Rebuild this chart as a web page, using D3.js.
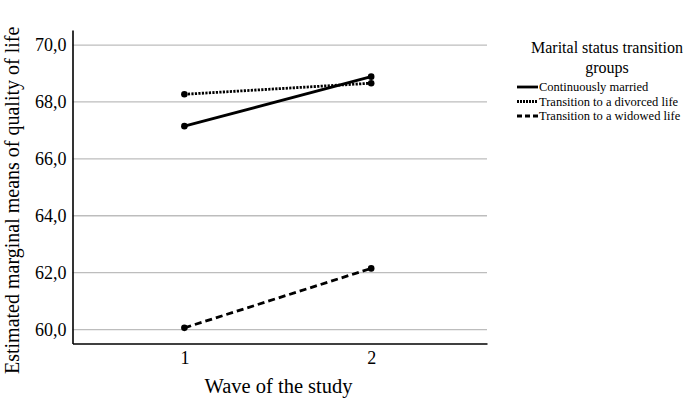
<!DOCTYPE html>
<html><head><meta charset="utf-8">
<script src="https://cdn.jsdelivr.net/npm/d3@7"></script>
<style>body{margin:0;background:#fff;} svg{display:block;font-family:"Liberation Serif","Times New Roman",serif;}</style>
</head><body>
<svg id="chart" width="685" height="399"></svg>
<script>
const waves = [1, 2];
const yTicks = [60, 62, 64, 66, 68, 70];
const seriesNames = ["Continuously married", "Transition to a divorced life", "Transition to a widowed life"];
const marriedValues = [67.15, 68.89];
const divorcedValues = [68.27, 68.66];
const widowedValues = [60.06, 62.15];
const dashStyles = [null, "2.2,1.3", "7,4"];
const legendDash = [null, "2,1", "5,3"];

(function () {
const series = [marriedValues, divorcedValues, widowedValues].map((v, i) => ({name: seriesNames[i], values: v, dash: dashStyles[i], ldash: legendDash[i]}));

const svg = d3.select("#chart");
const mLeft = 72.5, mRight = 487, mTop = 30, mBottom = 343.5;
const x = d3.scaleLinear().domain([0.401, 2.62]).range([mLeft, mRight]);
const y = d3.scaleLinear().domain([59.51, 70.53]).range([mBottom, mTop]);

// gridlines
svg.append("g").selectAll("line").data(yTicks).join("line")
  .attr("x1", mLeft).attr("x2", mRight)
  .attr("y1", d => y(d)).attr("y2", d => y(d))
  .attr("stroke", "#bdbdbd").attr("stroke-width", 1.3);

// y axis
const yAxis = d3.axisLeft(y).tickValues(yTicks).tickSize(0).tickPadding(6)
  .tickFormat(d => d3.format(".1f")(d).replace(".", ","));
const gy = svg.append("g").attr("transform", `translate(${mLeft},0)`).call(yAxis);
gy.select(".domain").attr("stroke", "#000").attr("stroke-width", 1.6);
gy.selectAll("text").attr("font-size", 18).attr("font-family", "Liberation Serif").attr("fill", "#000");

// x axis
const xAxis = d3.axisBottom(x).tickValues(waves).tickSize(0).tickPadding(8).tickFormat(d3.format("d"));
const gx = svg.append("g").attr("transform", `translate(0,${mBottom})`).call(xAxis);
gx.select(".domain").attr("stroke", "#000").attr("stroke-width", 1.6);
gx.selectAll("text").attr("font-size", 18).attr("font-family", "Liberation Serif").attr("fill", "#000");

// lines
const line = d3.line().x((d, i) => x(waves[i])).y(d => y(d));
series.forEach(s => {
  svg.append("path").datum(s.values).attr("d", line)
    .attr("fill", "none").attr("stroke", "#000").attr("stroke-width", 2.8)
    .attr("stroke-dasharray", s.dash);
  svg.append("g").selectAll("circle").data(s.values).join("circle")
    .attr("cx", (d, i) => x(waves[i])).attr("cy", d => y(d)).attr("r", 3.3).attr("fill", "#000");
});

// axis titles
svg.append("text").attr("x", 278.5).attr("y", 393)
  .attr("text-anchor", "middle").attr("font-size", 20.5).text("Wave of the study");
svg.append("text").attr("transform", `translate(18.5,374) rotate(-90)`)
  .attr("text-anchor", "start").attr("font-size", 20).text("Estimated marginal means of quality of life");

// legend
const lg = svg.append("g");
lg.append("text").attr("x", 607).attr("y", 53).attr("text-anchor", "middle").attr("font-size", 16).text("Marital status transition");
lg.append("text").attr("x", 607).attr("y", 73).attr("text-anchor", "middle").attr("font-size", 16).text("groups");
series.forEach((s, i) => {
  const yy = 87 + i * 14.5;
  lg.append("line").attr("x1", 517).attr("x2", 538).attr("y1", yy).attr("y2", yy)
    .attr("stroke", "#000").attr("stroke-width", 2.8).attr("stroke-dasharray", s.ldash);
  lg.append("text").attr("x", 539).attr("y", yy + 4).attr("font-size", 12.5).text(s.name);
});
})();
</script>
</body></html>
